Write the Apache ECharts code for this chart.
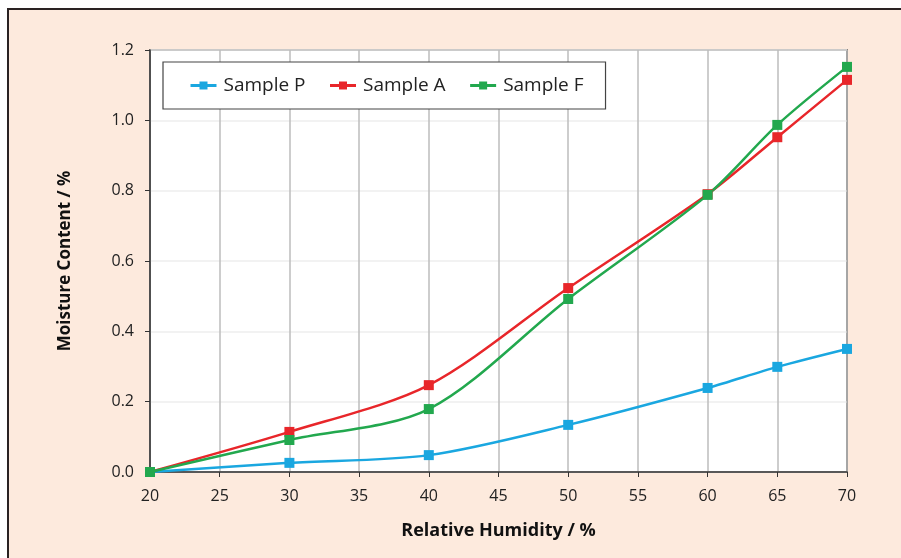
<!DOCTYPE html>
<html>
<head>
<meta charset="utf-8">
<script src="https://cdn.jsdelivr.net/npm/echarts@6/dist/echarts.min.js"></script>
<style>
    html, body { margin: 0; padding: 0; background: #fff; overflow: hidden; }
    #frame {
        position: absolute; left: 7px; top: 8px; width: 910px; height: 570px;
        background: #fdeadd; border-left: 2px solid #2a2222; border-top: 2px solid #2a2222;
    }
    #chart { position: absolute; left: 0; top: 0; width: 901px; height: 558px; }
</style>
</head>
<body>
<div id="frame"></div>
<div id="chart"></div>
<script>
// relative humidity (%)
const humidity = [20, 30, 40, 50, 60, 65, 70]
const samplePN = [0, 0.026, 0.048, 0.134, 0.239, 0.299, 0.35]
const sampleA = [0, 0.114, 0.247, 0.523, 0.79, 0.952, 1.115]
const sampleF = [0, 0.091, 0.179, 0.492, 0.788, 0.987, 1.152]

const pairs = (ys) => humidity.map((x, i) => [x, ys[i]])

const mkSeries = (name, color, ys) => ({
    name: name,
    type: 'line',
    smooth: 0.3,
    symbol: 'rect',
    symbolSize: 10,
    itemStyle: { color: color },
    lineStyle: { color: color, width: 2.5 },
    data: pairs(ys),
})

const myChart = echarts.init(document.getElementById('chart'))
const font = '"Open Sans", "Noto Sans", sans-serif'
const option = {
    backgroundColor: 'transparent',
    textStyle: { fontFamily: font },
    animation: false,
    grid: {
        left: 150, right: 54, top: 50, bottom: 86,
        show: true, backgroundColor: '#fff', borderColor: '#333', borderWidth: 1.5,
    },
    legend: {
        left: 163, top: 62,
        padding: [14, 22, 14, 26],
        itemGap: 23,
        itemWidth: 26, itemHeight: 10,
        borderColor: '#444', borderWidth: 1.2,
        backgroundColor: '#fff',
        lineStyle: { width: 3 },
        textStyle: { fontSize: 19, color: '#222', fontFamily: font, padding: [0, 0, 0, 2] },
        data: ['Sample P', 'Sample A', 'Sample F'],
    },
    xAxis: {
        type: 'value',
        min: 20, max: 70, interval: 5,
        name: 'Relative Humidity / %',
        nameLocation: 'middle',
        nameGap: 50,
        nameTextStyle: { fontSize: 18, fontWeight: 'bold', color: '#111' },
        axisLine: { lineStyle: { color: '#333', width: 1.5 } },
        axisTick: { show: true, length: 5, lineStyle: { color: '#333' } },
        axisLabel: { fontSize: 16, color: '#222', margin: 16 },
        splitLine: { show: true, lineStyle: { color: '#bdbdbd', width: 1.5 } },
    },
    yAxis: {
        type: 'value',
        min: 0, max: 1.2, interval: 0.2,
        name: 'Moisture Content / %',
        nameLocation: 'middle',
        nameGap: 76,
        nameTextStyle: { fontSize: 17, fontWeight: 'bold', color: '#111' },
        axisLine: { show: true, lineStyle: { color: '#333', width: 1.5 } },
        axisTick: { show: true, length: 5, lineStyle: { color: '#333' } },
        axisLabel: { fontSize: 16, color: '#222', margin: 16, formatter: (v) => v.toFixed(1) },
        splitLine: { show: true, lineStyle: { color: '#eeeeee', width: 1.5 } },
    },
    series: [
        mkSeries('Sample P', '#1aa7e0', samplePN),
        mkSeries('Sample A', '#e8262a', sampleA),
        mkSeries('Sample F', '#22a84e', sampleF),
    ],
}
myChart.setOption(option)
</script>
</body>
</html>
